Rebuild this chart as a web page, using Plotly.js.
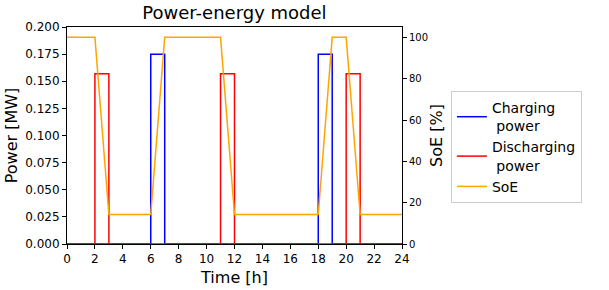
<!DOCTYPE html>
<html>
<head>
<meta charset="utf-8">
<script src="https://cdn.plot.ly/plotly-3.0.1.min.js"></script>
<style>html,body{margin:0;padding:0;background:#fff;}#chart{width:609px;height:290px;}</style>
</head>
<body>
<div id="chart"></div>
<script>
const hours = [0,1,2,3,4,5,6,7,8,9,10,11,12,13,14,15,16,17,18,19,20,21,22,23,24];
const chargingPower = [0,0,0,0,0,0,0.175,0,0,0,0,0,0,0,0,0,0,0,0.175,0,0,0,0,0,0];
const dischargingPower = [0,0,0.157,0,0,0,0,0,0,0,0,0.157,0,0,0,0,0,0,0,0,0.157,0,0,0,0];
const soe = [100,100,100,14.3,14.3,14.3,14.3,100,100,100,100,100,14.3,14.3,14.3,14.3,14.3,14.3,14.3,100,100,14.3,14.3,14.3,14.3];
const xTicks = [0,2,4,6,8,10,12,14,16,18,20,22,24];

const font = {family: 'DejaVu Sans', color: '#000'};
const traces = [
  {x: hours, y: chargingPower, type: 'scatter', mode: 'lines', name: 'Charging<br> power',
   line: {color: '#0000ff', width: 1.5, shape: 'hv'}, yaxis: 'y'},
  {x: hours, y: dischargingPower, type: 'scatter', mode: 'lines', name: 'Discharging<br> power',
   line: {color: '#ff0000', width: 1.5, shape: 'hv'}, yaxis: 'y'},
  {x: hours, y: soe, type: 'scatter', mode: 'lines', name: 'SoE',
   line: {color: '#ffa500', width: 1.5}, yaxis: 'y2'}
];
const layout = {
  width: 609, height: 290,
  margin: {l: 67, r: 207, t: 27, b: 46},
  paper_bgcolor: '#fff', plot_bgcolor: '#fff',
  font: font,
  showlegend: true,
  title: {text: 'Power-energy model', font: {family: 'DejaVu Sans', size: 18, color: '#000'},
          x: 0.385, xanchor: 'center', y: 0.977, yanchor: 'top'},
  xaxis: {range: [0, 24], tickvals: xTicks, ticktext: xTicks.map(String),
          ticks: 'outside', ticklen: 4, tickcolor: '#000', showgrid: false, zeroline: false,
          showline: true, linecolor: '#000', linewidth: 1, mirror: true,
          tickfont: {family: 'DejaVu Sans', size: 12, color: '#000'},
          title: {text: 'Time [h]', font: {family: 'DejaVu Sans', size: 16, color: '#000'}, standoff: 6}},
  yaxis: {range: [0, 0.2], dtick: 0.025, tick0: 0, tickformat: '.3f',
          ticks: 'outside', ticklen: 4, tickcolor: '#000', showgrid: false, zeroline: false,
          showline: true, linecolor: '#000', linewidth: 1,
          tickfont: {family: 'DejaVu Sans', size: 12, color: '#000'},
          title: {text: 'Power [MW]', font: {family: 'DejaVu Sans', size: 16, color: '#000'}, standoff: 3}},
  yaxis2: {range: [0, 105], dtick: 20, tick0: 0, overlaying: 'y', side: 'right',
           ticks: 'outside', ticklen: 4, tickcolor: '#000', showgrid: false, zeroline: false,
           showline: true, linecolor: '#000', linewidth: 1,
           tickfont: {family: 'DejaVu Sans', size: 10, color: '#000'},
           title: {text: 'SoE [%]', font: {family: 'DejaVu Sans', size: 16, color: '#000'}, standoff: 3}},
  legend: {x: 1.146, y: 0.705, xanchor: 'left', yanchor: 'top',
           bordercolor: '#cccccc', borderwidth: 1, bgcolor: '#fff',
           font: {family: 'DejaVu Sans', size: 14, color: '#000'},
           tracegroupgap: 0, itemwidth: 30}
};
Plotly.newPlot('chart', traces, layout, {staticPlot: true, displayModeBar: false});
</script>
</body>
</html>
